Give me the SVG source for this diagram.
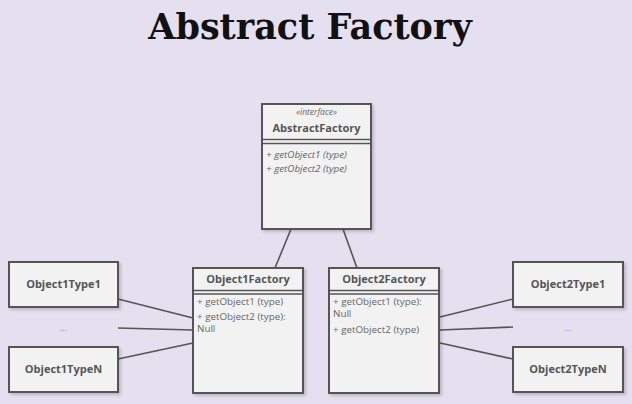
<svg xmlns="http://www.w3.org/2000/svg" width="632" height="404" viewBox="0 0 632 404">
<defs>
<filter id="sh" x="-10%" y="-10%" width="130%" height="130%">
<feDropShadow dx="2" dy="2" stdDeviation="1.5" flood-color="#000" flood-opacity="0.18"/>
</filter>
</defs>
<style>
.box{fill:#f2f2f2;stroke:#555;stroke-width:2;filter:url(#sh)}
.sep{stroke:#555;stroke-width:1.5;fill:none}
.name{font-family:"Open Sans",sans-serif;font-weight:bold;font-size:11px;fill:#555;text-anchor:middle}
.st{font-family:"Open Sans",sans-serif;font-style:italic;font-size:8.5px;fill:#666;text-anchor:middle}
.m{font-family:"Open Sans",sans-serif;font-size:9.8px;fill:#666}
.mi{font-family:"Open Sans",sans-serif;font-style:italic;font-size:9.8px;fill:#666}
.dots{font-family:"Open Sans",sans-serif;font-size:9px;fill:#888;text-anchor:middle}
.c{stroke:#555;stroke-width:1.6;fill:none}
</style>
<rect width="632" height="404" fill="#e4e0ef"/>
<text x="310" y="39" font-family="DejaVu Serif, serif" font-weight="bold" font-size="35" fill="#111" text-anchor="middle">Abstract Factory</text>
<g id="connectors">
<line class="c" x1="291" y1="229" x2="275" y2="268"/>
<line class="c" x1="343" y1="229" x2="357" y2="268"/>
<line class="c" x1="118" y1="299" x2="193" y2="318"/>
<line class="c" x1="118" y1="328" x2="193" y2="330"/>
<line class="c" x1="118" y1="359" x2="193" y2="343"/>
<line class="c" x1="440" y1="317" x2="513" y2="299"/>
<line class="c" x1="440" y1="330" x2="513" y2="327"/>
<line class="c" x1="440" y1="343" x2="513" y2="359"/>
</g>
<g id="AbstractFactory">
<rect class="box" x="262" y="104" width="109" height="125"/>
<line class="sep" x1="262" y1="139.5" x2="371" y2="139.5"/>
<line class="sep" x1="262" y1="143.5" x2="371" y2="143.5"/>
<text class="st" x="316.5" y="115">«interface»</text>
<text class="name" x="316.5" y="132">AbstractFactory</text>
<text class="mi" x="266" y="158">+ getObject1 (type)</text>
<text class="mi" x="266" y="172">+ getObject2 (type)</text>
</g>
<g id="Object1Factory">
<rect class="box" x="193" y="268" width="110" height="125"/>
<line class="sep" x1="193" y1="290.5" x2="303" y2="290.5"/>
<line class="sep" x1="193" y1="294" x2="303" y2="294"/>
<text class="name" x="248" y="283">Object1Factory</text>
<text class="m" x="197" y="305">+ getObject1 (type)</text>
<text class="m" x="197" y="320">+ getObject2 (type):</text>
<text class="m" x="197" y="332">Null</text>
</g>
<g id="Object2Factory">
<rect class="box" x="329" y="268" width="110" height="125"/>
<line class="sep" x1="329" y1="290.5" x2="439" y2="290.5"/>
<line class="sep" x1="329" y1="294" x2="439" y2="294"/>
<text class="name" x="384" y="283">Object2Factory</text>
<text class="m" x="333" y="305">+ getObject1 (type):</text>
<text class="m" x="333" y="317">Null</text>
<text class="m" x="333" y="333">+ getObject2 (type)</text>
</g>
<g id="Object1Type1">
<rect class="box" x="9" y="262" width="109" height="45"/>
<text class="name" x="63.5" y="288">Object1Type1</text>
</g>
<g id="Object1Dots">
<text class="dots" x="63.5" y="331">...</text>
</g>
<g id="Object1TypeN">
<rect class="box" x="9" y="347" width="109" height="45"/>
<text class="name" x="63.5" y="373">Object1TypeN</text>
</g>
<g id="Object2Type1">
<rect class="box" x="513" y="262" width="110" height="45"/>
<text class="name" x="568" y="288">Object2Type1</text>
</g>
<g id="Object2Dots">
<text class="dots" x="568" y="331">...</text>
</g>
<g id="Object2TypeN">
<rect class="box" x="513" y="347" width="110" height="45"/>
<text class="name" x="568" y="373">Object2TypeN</text>
</g>
</svg>
